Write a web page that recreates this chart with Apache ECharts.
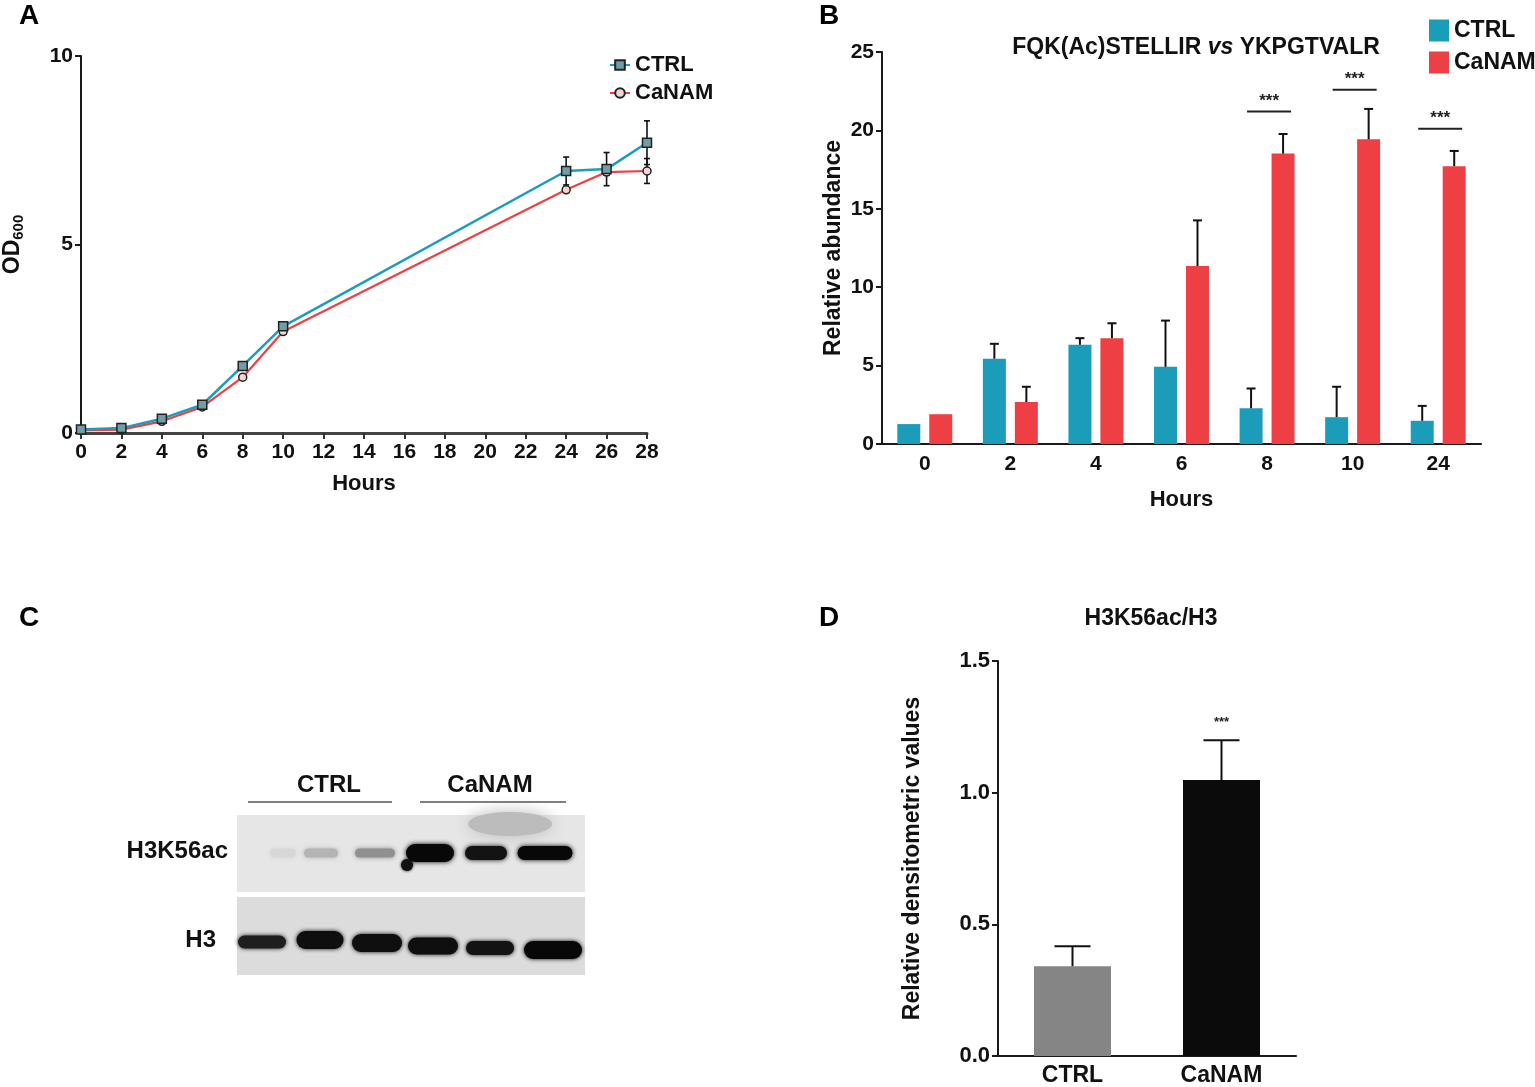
<!DOCTYPE html>
<html><head><meta charset="utf-8">
<script src="https://cdn.jsdelivr.net/npm/echarts@6/dist/echarts.min.js"></script>
<style>html,body{margin:0;padding:0;background:#fff}#c{width:1535px;height:1087px}</style>
</head><body><div id="c"></div>
<script>
// ---------- Panel A : growth curve ----------
const hoursA = [0, 2, 4, 6, 8, 10, 24, 26, 28];
const ctrlOD = [0.09, 0.13, 0.38, 0.75, 1.78, 2.83, 6.95, 7.0, 7.7];
const ctrlODErr = [0.02, 0.02, 0.03, 0.04, 0.06, 0.07, 0.37, 0.44, 0.58];
const canamOD = [0.07, 0.09, 0.31, 0.69, 1.48, 2.69, 6.45, 6.92, 6.95];
const canamODErr = [0.02, 0.02, 0.03, 0.03, 0.05, 0.06, 0.04, 0.08, 0.33];
const ticksA = [0, 2, 4, 6, 8, 10, 12, 14, 16, 18, 20, 22, 24, 26, 28];

// ---------- Panel B : relative abundance ----------
const hoursB = ['0', '2', '4', '6', '8', '10', '24'];
const ctrlAb = [1.27, 5.44, 6.33, 4.92, 2.28, 1.71, 1.48];
const ctrlAbErr = [0, 0.95, 0.42, 2.95, 1.26, 1.94, 0.95];
const canamAb = [1.90, 2.68, 6.75, 11.35, 18.52, 19.43, 17.72];
const canamAbErr = [0, 0.97, 0.95, 2.91, 1.25, 1.94, 0.97];
const sigCatsB = ['8', '10', '24'];
const sigLevelB = [21.2, 22.6, 20.1];
const sigTextB = ['***', '***', '***'];

// ---------- Panel C : western blot lanes ----------
const blotGroups = ['CTRL', 'CaNAM'];
const blotRows = ['H3K56ac', 'H3'];
const h3k56acBand = [0.06, 0.22, 0.38, 1.0, 0.95, 1.0];
const h3Band = [0.9, 0.97, 0.97, 0.97, 0.95, 1.0];

// ---------- Panel D : densitometry ----------
const groupsD = ['CTRL', 'CaNAM'];
const densD = [0.341, 1.048];
const densErrD = [0.076, 0.151];
const sigD = ['', '***'];

const TEAL = '#1b9db9', RED = '#ee3f44';
const F = "'Liberation Sans', Arial, Helvetica, sans-serif";
const AX = { lineStyle: { color: '#1a1a1a', width: 2 } };

function errBoth(params, api) {
  const x = api.value(0), y = api.value(1), e = api.value(2);
  if (!e) return null;
  const t = api.coord([x, y + e]), b = api.coord([x, y - e]);
  const w = 3, st = { stroke: '#111', lineWidth: 1.6 };
  return { type: 'group', children: [
    { type: 'line', shape: { x1: t[0], y1: t[1], x2: b[0], y2: b[1] }, style: st },
    { type: 'line', shape: { x1: t[0] - w, y1: t[1], x2: t[0] + w, y2: t[1] }, style: st },
    { type: 'line', shape: { x1: b[0] - w, y1: b[1], x2: b[0] + w, y2: b[1] }, style: st }
  ] };
}
function errUp(offset, cap, lw) {
  return function (params, api) {
    const x = api.value(0), y = api.value(1), e = api.value(2);
    if (!e) return null;
    const b = api.coord([x, y]), t = api.coord([x, y + e]);
    const cx = b[0] + offset, st = { stroke: '#111', lineWidth: lw };
    return { type: 'group', children: [
      { type: 'line', shape: { x1: cx, y1: b[1], x2: cx, y2: t[1] }, style: st },
      { type: 'line', shape: { x1: cx - cap, y1: t[1], x2: cx + cap, y2: t[1] }, style: st }
    ] };
  };
}
function sigRender(params, api) {
  const x = api.value(0), y = api.value(1);
  const p = api.coord([x, y]);
  const txt = sigTextB[params.dataIndex];
  return { type: 'group', children: [
    { type: 'line', shape: { x1: p[0] - 20, y1: p[1], x2: p[0] + 24, y2: p[1] }, style: { stroke: '#222', lineWidth: 2 } },
    { type: 'text', x: p[0] + 2, y: p[1] - 2, style: { text: txt, font: 'bold 17px ' + F, fill: '#222', align: 'center', verticalAlign: 'bottom' } }
  ] };
}

// blot graphic elements
const blot = [];
blot.push({ type: 'rect', shape: { x: 237, y: 815, width: 348, height: 77 }, style: { fill: '#e6e6e6' } });
blot.push({ type: 'ellipse', shape: { cx: 510, cy: 824, rx: 42, ry: 12 }, style: { fill: '#bcbcbc', shadowBlur: 16, shadowColor: '#bcbcbc' } });
blot.push({ type: 'rect', shape: { x: 237, y: 897, width: 348, height: 78 }, style: { fill: '#dcdcdc' } });
const topLanes = [{ cx: 283, w: 26 }, { cx: 321, w: 34 }, { cx: 375, w: 40 }, { cx: 430, w: 48 }, { cx: 486, w: 42 }, { cx: 545, w: 55 }];
const botLanes = [{ cx: 262, w: 48 }, { cx: 320, w: 47 }, { cx: 377, w: 50 }, { cx: 433, w: 50 }, { cx: 490, w: 48 }, { cx: 553, w: 58 }];
h3k56acBand.forEach(function (v, i) {
  const g = Math.round(228 - 220 * v);
  const col = 'rgb(' + g + ',' + g + ',' + g + ')';
  const h = v > 0.5 ? (i === 3 ? 18 : 14) : 9;
  blot.push({ type: 'rect', shape: { x: topLanes[i].cx - topLanes[i].w / 2, y: 853 - h / 2, width: topLanes[i].w, height: h, r: h / 2 },
    style: { fill: col, shadowBlur: 5, shadowColor: col } });
});
blot.push({ type: 'circle', shape: { cx: 407, cy: 865, r: 6 }, style: { fill: '#111', shadowBlur: 3, shadowColor: '#111' } });
h3Band.forEach(function (v, i) {
  const g = Math.round(228 - 220 * v);
  const col = 'rgb(' + g + ',' + g + ',' + g + ')';
  const cy = [942, 940, 943, 946, 948, 950][i];
  const h = [13, 18, 18, 17, 14, 18][i];
  blot.push({ type: 'rect', shape: { x: botLanes[i].cx - botLanes[i].w / 2, y: cy - h / 2, width: botLanes[i].w, height: h, r: h / 2 },
    style: { fill: col, shadowBlur: 4, shadowColor: col } });
});
blot.push({ type: 'text', x: 329, y: 785, style: { text: blotGroups[0], font: 'bold 24px ' + F, fill: '#111', align: 'center', verticalAlign: 'middle' } });
blot.push({ type: 'text', x: 490, y: 785, style: { text: blotGroups[1], font: 'bold 24px ' + F, fill: '#111', align: 'center', verticalAlign: 'middle' } });
blot.push({ type: 'line', shape: { x1: 248, y1: 802, x2: 392, y2: 802 }, style: { stroke: '#555', lineWidth: 1.5 } });
blot.push({ type: 'line', shape: { x1: 420, y1: 802, x2: 566, y2: 802 }, style: { stroke: '#555', lineWidth: 1.5 } });
blot.push({ type: 'text', x: 228, y: 851, style: { text: blotRows[0], font: 'bold 24px ' + F, fill: '#111', align: 'right', verticalAlign: 'middle' } });
blot.push({ type: 'text', x: 216, y: 940, style: { text: blotRows[1], font: 'bold 24px ' + F, fill: '#111', align: 'right', verticalAlign: 'middle' } });

const letters = [['A', 19, 16], ['B', 819, 16], ['C', 19, 618], ['D', 819, 618]].map(function (a) {
  return { type: 'text', x: a[1], y: a[2], style: { text: a[0], font: 'bold 28px ' + F, fill: '#000', verticalAlign: 'middle' } };
});

const chart = echarts.init(document.getElementById('c'), null, { renderer: 'canvas' });
chart.setOption({
  animation: false,
  backgroundColor: '#fff',
  textStyle: { fontFamily: F },
  title: [
    { text: '{a|FQK(Ac)STELLIR }{b|vs}{a| YKPGTVALR}', left: 1191, top: 31, textAlign: 'center',
      textStyle: { rich: { a: { fontSize: 23, fontWeight: 'bold', fontFamily: F, color: '#111' }, b: { fontSize: 23, fontWeight: 'bold', fontStyle: 'italic', fontFamily: F, color: '#111' } } } },
    { text: 'H3K56ac/H3', left: 1146, top: 602, textAlign: 'center', textStyle: { fontSize: 23, fontWeight: 'bold', fontFamily: F, color: '#111' } }
  ],
  legend: [
    { data: ['CTRL', 'CaNAM'], orient: 'vertical', left: 604, top: 49, itemWidth: 20, itemHeight: 12, itemGap: 6,
      textStyle: { fontSize: 22, fontWeight: 'bold', fontFamily: F, color: '#111' } },
    { data: [{ name: 'CTRL', icon: 'rect', itemStyle: { color: TEAL, borderWidth: 0 } }, { name: 'CaNAM', icon: 'rect', itemStyle: { color: RED, borderWidth: 0 } }],
      orient: 'vertical', left: 1424, top: 14, itemWidth: 20, itemHeight: 22, itemGap: 9, itemGap2: 0,
      itemStyle: { borderWidth: 0 },
      textStyle: { fontSize: 23, fontWeight: 'bold', fontFamily: F, color: '#111' } }
  ],
  grid: [
    { left: 81, top: 56, width: 566, height: 377 },
    { left: 882, top: 52, width: 599, height: 392 },
    { left: 998, top: 661, width: 298, height: 398 }
  ],
  xAxis: [
    { gridIndex: 0, type: 'value', min: 0, max: 28, interval: 2,
      axisLine: { lineStyle: { color: '#444', width: 3 } }, axisTick: { show: true, length: 6, lineStyle: { color: '#333', width: 2 } },
      axisLabel: { fontSize: 21, fontWeight: 'bold', color: '#111', margin: 9, formatter: function (v) { return ticksA.indexOf(v) >= 0 ? String(v) : ''; } },
      splitLine: { show: false },
      name: 'Hours', nameLocation: 'middle', nameGap: 40, nameTextStyle: { fontSize: 22, fontWeight: 'bold', color: '#111' } },
    { gridIndex: 1, type: 'category', data: hoursB,
      axisLine: AX, axisTick: { alignWithLabel: true, length: 6, lineStyle: { color: '#1a1a1a', width: 2 } },
      axisLabel: { fontSize: 21, fontWeight: 'bold', color: '#111', margin: 10 },
      name: 'Hours', nameLocation: 'middle', nameGap: 45, nameTextStyle: { fontSize: 22, fontWeight: 'bold', color: '#111' } },
    { gridIndex: 2, type: 'category', data: groupsD,
      axisLine: AX, axisTick: { alignWithLabel: true, length: 6, lineStyle: { color: '#1a1a1a', width: 2 } },
      axisLabel: { fontSize: 23, fontWeight: 'bold', color: '#111', margin: 8 } }
  ],
  yAxis: [
    { gridIndex: 0, type: 'value', min: 0, max: 10, interval: 5,
      axisLine: { show: true, lineStyle: { color: '#1a1a1a', width: 2 } }, axisTick: { show: true, length: 6, lineStyle: { color: '#1a1a1a', width: 2 } },
      axisLabel: { fontSize: 21, fontWeight: 'bold', color: '#111', margin: 8 }, splitLine: { show: false },
      name: '{m|OD}{s|600}', nameLocation: 'middle', nameGap: 55, nameRotate: 90,
      nameTextStyle: { rich: { m: { fontSize: 23, fontWeight: 'bold', fontFamily: F, color: '#111', lineHeight: 26, verticalAlign: 'middle' },
        s: { fontSize: 15, fontWeight: 'bold', fontFamily: F, color: '#111', lineHeight: 26, verticalAlign: 'bottom', padding: [10, 0, 0, 0] } } } },
    { gridIndex: 1, type: 'value', min: 0, max: 25, interval: 5,
      axisLine: { show: true, lineStyle: { color: '#1a1a1a', width: 2 } }, axisTick: { show: true, length: 6, lineStyle: { color: '#1a1a1a', width: 2 } },
      axisLabel: { fontSize: 21, fontWeight: 'bold', color: '#111', margin: 8 }, splitLine: { show: false },
      name: 'Relative abundance', nameLocation: 'middle', nameGap: 37, nameTextStyle: { fontSize: 23, fontWeight: 'bold', color: '#111' } },
    { gridIndex: 2, type: 'value', min: 0, max: 1.5, interval: 0.5,
      axisLine: { show: true, lineStyle: { color: '#1a1a1a', width: 2 } }, axisTick: { show: true, length: 6, lineStyle: { color: '#1a1a1a', width: 2 } },
      axisLabel: { fontSize: 22, fontWeight: 'bold', color: '#111', margin: 8, formatter: function (v) { return v.toFixed(1); } }, splitLine: { show: false },
      name: 'Relative densitometric values', nameLocation: 'middle', nameGap: 74, nameTextStyle: { fontSize: 23, fontWeight: 'bold', color: '#111' } }
  ],
  series: [
    { name: 'CaNAM', type: 'line', xAxisIndex: 0, yAxisIndex: 0, z: 3,
      data: hoursA.map(function (h, i) { return [h, canamOD[i]]; }),
      symbol: 'circle', symbolSize: 8, color: RED,
      lineStyle: { color: RED, width: 2.2 },
      itemStyle: { color: '#f7d4d4', borderColor: '#222', borderWidth: 1.5 } },
    { name: 'CTRL', type: 'line', xAxisIndex: 0, yAxisIndex: 0, z: 4,
      data: hoursA.map(function (h, i) { return [h, ctrlOD[i]]; }),
      symbol: 'rect', symbolSize: 9, color: TEAL,
      lineStyle: { color: TEAL, width: 2.5 },
      itemStyle: { color: '#6f9ea6', borderColor: '#222', borderWidth: 1.5 } },
    { type: 'custom', xAxisIndex: 0, yAxisIndex: 0, z: 2, renderItem: errBoth,
      data: hoursA.map(function (h, i) { return [h, ctrlOD[i], ctrlODErr[i]]; }) },
    { type: 'custom', xAxisIndex: 0, yAxisIndex: 0, z: 2, renderItem: errBoth,
      data: hoursA.map(function (h, i) { return [h, canamOD[i], canamODErr[i]]; }) },

    { name: 'CTRL', type: 'bar', xAxisIndex: 1, yAxisIndex: 1, data: ctrlAb, barWidth: 23, barGap: '39%', itemStyle: { color: TEAL } },
    { name: 'CaNAM', type: 'bar', xAxisIndex: 1, yAxisIndex: 1, data: canamAb, barWidth: 23, barGap: '39%', itemStyle: { color: RED } },
    { type: 'custom', xAxisIndex: 1, yAxisIndex: 1, z: 5, renderItem: errUp(-16, 4.5, 2),
      data: hoursB.map(function (h, i) { return [i, ctrlAb[i], ctrlAbErr[i]]; }) },
    { type: 'custom', xAxisIndex: 1, yAxisIndex: 1, z: 5, renderItem: errUp(16, 4.5, 2),
      data: hoursB.map(function (h, i) { return [i, canamAb[i], canamAbErr[i]]; }) },
    { type: 'custom', xAxisIndex: 1, yAxisIndex: 1, z: 5, renderItem: sigRender,
      data: sigCatsB.map(function (c, i) { return [hoursB.indexOf(c), sigLevelB[i]]; }) },

    { type: 'bar', xAxisIndex: 2, yAxisIndex: 2, barWidth: 77,
      data: densD.map(function (v, i) { return { value: v, itemStyle: { color: i === 0 ? '#858585' : '#0b0b0b' } }; }) },
    { type: 'custom', xAxisIndex: 2, yAxisIndex: 2, z: 5,
      renderItem: function (params, api) {
        const x = api.value(0), y = api.value(1), e = api.value(2);
        const b = api.coord([x, y]), t = api.coord([x, y + e]);
        const st = { stroke: '#111', lineWidth: 2 };
        return { type: 'group', children: [
          { type: 'line', shape: { x1: b[0], y1: b[1], x2: b[0], y2: t[1] }, style: st },
          { type: 'line', shape: { x1: b[0] - 18, y1: t[1], x2: b[0] + 18, y2: t[1] }, style: st },
          { type: 'text', x: b[0], y: t[1] - 11, style: { text: sigD[params.dataIndex], font: 'bold 13px ' + F, fill: '#222', align: 'center', verticalAlign: 'bottom' } }
        ] };
      },
      data: groupsD.map(function (g, i) { return [i, densD[i], densErrD[i]]; }) }
  ],
  graphic: letters.concat(blot)
});
</script></body></html>
